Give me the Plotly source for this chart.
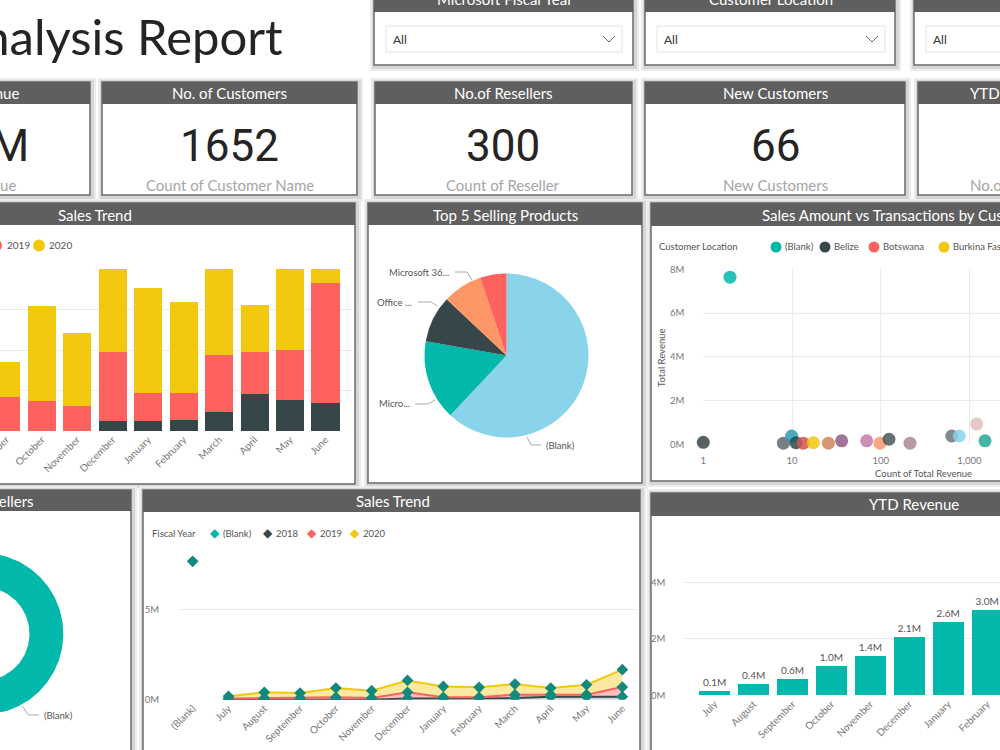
import numpy as np
import plotly.graph_objects as go

W, H = 1000, 750
def X(p): return p / W
def Y(p): return 1 - p / H

FONT = "Segoe UI, Lato, Open Sans, sans-serif"
NUMFONT = "Roboto, DejaVu Sans, sans-serif"
HEADER_BG = "#5f5f5f"
BORDER = "#6b6b6b"
TEAL, DARK, RED, YELLOW = "#01B8AA", "#374649", "#FD625E", "#F2C80F"
LBL = "#777777"

# ---------------- data ----------------
months = ["July", "August", "September", "October", "November", "December",
          "January", "February", "March", "April", "May", "June"]

# Sales Trend (stacked columns), in gridline units
bar_2018 = [None, None, 0, 0, 0, 0.24, 0.24, 0.27, 0.47, 0.92, 0.77, 0.69]
bar_2019 = [None, None, 0.85, 0.74, 0.62, 1.72, 0.71, 0.68, 1.40, 1.02, 1.24, 2.96]
bar_2020 = [None, None, 0.86, 2.34, 1.81, 2.04, 2.58, 2.23, 2.13, 1.17, 1.99, 0.35]

# Top 5 Selling Products
pie_labels = ["(Blank)", "Micro...", "Office ...", "Microsoft 36...", "Other"]
pie_values = [62.0, 15.8, 9.2, 7.8, 5.2]
pie_colors = ["#8AD4EB", TEAL, DARK, "#FE9666", RED]

# Sales Amount vs Transactions (x: count, y: revenue in M)
sc_x = [2, 1, 8, 9.9, 11.1, 13.4, 17.4, 25.7, 36.3, 69.5, 98, 124, 214, 631, 770, 1208, 1500]
sc_y = [7.64, 0.09, 0.05, 0.38, 0.07, 0.05, 0.07, 0.05, 0.16, 0.16, 0.05, 0.23, 0.05, 0.38, 0.38, 0.93, 0.16]
sc_colors = [TEAL, DARK, "#5F6B6D", "#2C9AB7", "#27494C", "#D2524F", YELLOW, "#D2845C",
             "#8D5C86", "#C47BAE", "#FE9666", "#4A5759", "#A98A93", "#6D7677", "#8AD4EB",
             "#DFBFBF", "#27A596"]
sc_legend = ["(Blank)", "Belize", "Botswana", "Burkina Faso"]
sc_legend_colors = [TEAL, DARK, RED, YELLOW]

# No. of Resellers donut
donut_labels = ["(Blank)"]
donut_values = [300]

# Sales Trend (stacked area), M
line_cats = ["(Blank)"] + months
blank_val = 7.69
l2018 = [0, 0, 0, 0, 0, 0.07, 0.06, 0.06, 0.09, 0.17, 0.17, 0.17]
l2019 = [0.06, 0.09, 0.09, 0.13, 0.09, 0.34, 0.07, 0.07, 0.19, 0.11, 0.11, 0.53]
l2020 = [0.13, 0.32, 0.28, 0.52, 0.41, 0.66, 0.61, 0.56, 0.59, 0.37, 0.55, 0.97]

# YTD Revenue, M
ytd_months = months[:8]
ytd_vals = [0.14, 0.40, 0.59, 1.04, 1.40, 2.06, 2.58, 3.02]

# KPI cards
kpis = [("No. of Customers", "1652", "Count of Customer Name", 229.5),
        ("No.of Resellers", "300", "Count of Reseller", 503.5),
        ("New Customers", "66", "New Customers", 775)]

shapes, annotations = [], []

def text(x, y, s, size=10, color="#666", anchor="center", font=FONT, angle=0, weight=None):
    f = dict(family=font, size=size, color=color)
    if weight:
        f["weight"] = weight
    annotations.append(dict(xref="paper", yref="paper", x=X(x), y=Y(y), text=s,
                            showarrow=False, xanchor=anchor, yanchor="middle",
                            font=f, textangle=angle))

def rect(x0, y0, x1, y1, fill, line=None, lw=0):
    shapes.append(dict(type="rect", xref="paper", yref="paper", layer="below",
                       x0=X(x0), x1=X(x1), y0=Y(y1), y1=Y(y0), fillcolor=fill,
                       line=dict(color=line or fill, width=lw)))

def circle(cx, cy, r, color):
    shapes.append(dict(type="circle", xref="paper", yref="paper", layer="above",
                       x0=X(cx - r), x1=X(cx + r), y0=Y(cy + r), y1=Y(cy - r),
                       fillcolor=color, line=dict(width=0)))

def polyline(pts, color="#aaaaaa", width=1, layer="above"):
    d = "M " + " L ".join(f"{X(a):.5f},{Y(b):.5f}" for a, b in pts)
    shapes.append(dict(type="path", xref="paper", yref="paper", path=d, layer=layer,
                       line=dict(color=color, width=width)))

def panel(x0, y0, x1, y1, hh=22):
    rect(x0 - 4, y0 - 4, x1 + 6, y1 + 6, "#ececec")
    rect(x0 - 2, y0 - 2, x1 + 4, y1 + 4, "#d6d6d6")
    rect(x0, y0, x1, y1, "#ffffff", BORDER, 1.5)
    rect(x0, y0, x1, y0 + hh, HEADER_BG)

# ---------------- panels ----------------
panel(374, -10, 633, 65, 22)
panel(645, -10, 895, 65, 22)
panel(914, -10, 1015, 65, 22)
for p in [(-10, 82, 90, 195), (102, 82, 357, 195), (375, 82, 632, 195),
          (645, 82, 905, 195), (918, 82, 1015, 195)]:
    panel(*p, hh=22)
panel(-10, 203, 355, 484, 22)
panel(368, 203, 642, 483, 22)
panel(651, 203, 1015, 481, 23)
panel(-10, 490, 131, 760, 21)
panel(143, 490, 640, 760, 22)
panel(651, 493, 1015, 760, 23)

# title
text(285, 36, "Sales Analysis Report", size=49, color="#252423", anchor="right")

# slicers
for (bx0, bx1, hdr, hc) in [(386, 622, "Microsoft Fiscal Year", 505),
                            (657, 885, "Customer Location", 771),
                            (926, 1015, "", 0)]:
    rect(bx0, 26, bx1, 52, "#ffffff", "#e3e3e3", 1)
    text(bx0 + 5, 39, "All", size=12, color="#333", anchor="left")
    if hdr:
        text(hc, -1, hdr, size=15, color="#ffffff")
    if bx1 < 1000:
        cx = bx1 - 13
        polyline([(cx - 6, 36), (cx, 42), (cx + 6, 36)], color="#666", width=1)

# KPI cards
text(21, 93, "Total Revenue", size=15, color="#ffffff", anchor="right")
text(31, 146, "29.1M", size=44, color="#252423", anchor="right", font=NUMFONT)
text(18, 185, "Total Revenue", size=15, color="#a6a6a6", anchor="right")
for hdr, val, sub, cx in kpis:
    text(cx, 93, hdr, size=15, color="#ffffff")
    text(cx, 146, val, size=44, color="#252423", font=NUMFONT)
    text(cx, 185, sub, size=15, color="#a6a6a6")
text(968, 93, "YTD Transactions", size=15, color="#ffffff", anchor="left")
text(968, 185, "No.of Transactions", size=15, color="#a6a6a6", anchor="left")

# chart headers
text(95, 215, "Sales Trend", size=15, color="#ffffff")
text(505, 215, "Top 5 Selling Products", size=15, color="#ffffff")
text(760, 215, "Sales Amount vs Transactions by Customer Location", size=15, color="#ffffff", anchor="left")
text(36, 501, "No.of Resellers", size=15, color="#ffffff", anchor="right")
text(393, 501, "Sales Trend", size=15, color="#ffffff")
text(914, 504, "YTD Revenue", size=15, color="#ffffff")

# ---------------- stacked column ----------------
traces = []
for name, vals, col in [("2018", bar_2018, DARK), ("2019", bar_2019, RED), ("2020", bar_2020, YELLOW)]:
    traces.append(go.Bar(x=months, y=vals, name=name, marker=dict(color=col, line=dict(width=0)),
                         xaxis="x", yaxis="y", showlegend=False, hoverinfo="skip"))

circle(-4, 245.5, 6, RED)
text(5, 245.5, "2019", size=10, color="#555", anchor="left")
circle(39, 245.5, 6, YELLOW)
text(47, 245.5, "2020", size=10, color="#555", anchor="left")

# ---------------- pie ----------------
traces.append(go.Pie(values=pie_values, labels=pie_labels, marker=dict(colors=pie_colors, line=dict(width=0)),
                     sort=False, direction="clockwise", rotation=0, textinfo="none",
                     hoverinfo="skip", showlegend=False,
                     domain=dict(x=[X(424.5), X(588.5)], y=[Y(437.5), Y(273.5)])))
polyline([(527, 437), (531, 445), (541, 445)])
text(544, 445, "(Blank)", size=9.5, color="#555", anchor="left")
polyline([(435, 400), (428, 404), (415, 404)])
text(412, 404, "Micro...", size=9.5, color="#555", anchor="right")
polyline([(437, 306), (431, 302), (418, 302)])
text(414, 302, "Office ...", size=9.5, color="#555", anchor="right")
polyline([(472, 280), (467, 272), (455, 272)])
text(451, 272, "Microsoft 36...", size=9.5, color="#555", anchor="right")

# ---------------- scatter ----------------
traces.append(go.Scatter(x=sc_x, y=sc_y, mode="markers", xaxis="x2", yaxis="y2",
                         marker=dict(color=sc_colors, size=13, opacity=0.85, line=dict(width=0)),
                         cliponaxis=False, showlegend=False, hoverinfo="skip"))
text(657, 247, "Customer Location", size=9.5, color="#555", anchor="left")
lx = [776, 825, 874, 944]
for nm, col, cx in zip(sc_legend, sc_legend_colors, lx):
    circle(cx, 247, 5.5, col)
    text(cx + 7, 247, nm, size=9.5, color="#555", anchor="left")
text(661, 358, "Total Revenue", size=9.5, color="#555", angle=-90)
text(923, 473, "Count of Total Revenue", size=9.5, color="#555")

# ---------------- donut ----------------
fr = np.array(donut_values, dtype=float) / np.sum(donut_values)
cum = np.concatenate([[0], np.cumsum(fr)])
R_OUT, R_IN = 80.8, 47.0
for i, lab in enumerate(donut_labels):
    a = np.linspace(cum[i], cum[i + 1], 241) * 2 * np.pi
    xs = np.concatenate([R_OUT * np.sin(a), R_IN * np.sin(a[::-1])])
    ys = np.concatenate([R_OUT * np.cos(a), R_IN * np.cos(a[::-1])])
    traces.append(go.Scatter(x=xs, y=ys, mode="lines", fill="toself", fillcolor=TEAL,
                             line=dict(width=0, color=TEAL), xaxis="x5", yaxis="y5",
                             showlegend=False, hoverinfo="skip"))
polyline([(22, 706), (28.5, 715), (39, 715)])
text(42, 715, "(Blank)", size=9.5, color="#555", anchor="left")

# ---------------- line / area ----------------
MK = dict(symbol="diamond", size=9, color="#12897D")
traces.append(go.Scatter(x=["(Blank)"], y=[blank_val], mode="markers", marker=MK,
                         xaxis="x3", yaxis="y3", showlegend=False, hoverinfo="skip"))
for name, vals, col, fc in [("2018", l2018, DARK, "rgba(55,70,73,0.25)"),
                            ("2019", l2019, RED, "rgba(253,98,94,0.4)"),
                            ("2020", l2020, YELLOW, "rgba(242,200,15,0.4)")]:
    traces.append(go.Scatter(x=months, y=vals, mode="lines+markers", stackgroup="one",
                             line=dict(color=col, width=2), fillcolor=fc, marker=MK,
                             xaxis="x3", yaxis="y3", showlegend=False, hoverinfo="skip"))
text(150, 533, "Fiscal Year", size=9.5, color="#555", anchor="left")
for sym_x, col, nm in [(215, TEAL, "(Blank)"), (267.5, DARK, "2018"),
                       (312, RED, "2019"), (355, YELLOW, "2020")]:
    text(sym_x, 533, "\u25C6", size=12, color=col, font="DejaVu Sans")
    text(sym_x + 6, 533, nm, size=9.5, color="#555", anchor="left")

# ---------------- YTD ----------------
traces.append(go.Bar(x=ytd_months, y=ytd_vals, marker=dict(color=TEAL, line=dict(width=0)),
                     texttemplate="%{y:.1f}M", textposition="outside",
                     textfont=dict(size=10, color="#555", family=FONT), cliponaxis=False,
                     xaxis="x4", yaxis="y4", showlegend=False, hoverinfo="skip"))

fig = go.Figure(data=traces)

GRID = "#ebebeb"
TF = dict(family=FONT, size=10, color=LBL)
common_x = dict(type="category", showgrid=False, zeroline=False, showline=False,
                tickangle=-45, tickfont=TF, automargin=False, ticks="")
fig.update_layout(
    template="none", width=W, height=H, autosize=False,
    margin=dict(l=0, r=0, t=0, b=0), paper_bgcolor="#ffffff",
    plot_bgcolor="rgba(0,0,0,0)", showlegend=False, barmode="stack", bargap=0.21,
    font=dict(family=FONT),
    xaxis=dict(common_x, domain=[0, 0.353], categoryorder="array", categoryarray=months,
               range=[1.825, 11.775], anchor="y"),
    yaxis=dict(domain=[Y(431), Y(269)], range=[0, 4], dtick=1, showticklabels=False,
               gridcolor=GRID, zeroline=False, showline=False, automargin=False, anchor="x"),
    xaxis2=dict(type="log", domain=[0.7033, 1.0], range=[0, 3.345], tickvals=[1, 10, 100, 1000],
                ticktext=["1", "10", "100", "1,000"], gridcolor=GRID, zeroline=False, showline=False,
                tickfont=dict(family=FONT, size=9.5, color=LBL), ticks="outside", ticklen=7,
                tickcolor="rgba(0,0,0,0)", automargin=False, anchor="y2"),
    yaxis2=dict(domain=[Y(444.3), Y(269.3)], range=[0, 8], tickvals=[0, 2, 4, 6, 8],
                ticktext=["0M", "2M", "4M", "6M", "8M"], gridcolor=GRID, zeroline=False,
                showline=False, tickfont=dict(family=FONT, size=9.5, color=LBL),
                ticks="outside", ticklen=16, tickcolor="rgba(0,0,0,0)", automargin=False, anchor="x2"),
    xaxis3=dict(common_x, domain=[0.178, 0.637], categoryorder="array", categoryarray=line_cats,
                range=[-0.41, 12.41], anchor="y3"),
    yaxis3=dict(domain=[Y(699.7), Y(546.7)], range=[0, 8.5], tickvals=[0, 5], ticktext=["0M", "5M"],
                gridcolor=GRID, zeroline=False, showline=False, tickfont=dict(family=FONT, size=9.5, color=LBL),
                ticks="outside", ticklen=16, tickcolor="rgba(0,0,0,0)", automargin=False, anchor="x3"),
    xaxis4=dict(common_x, domain=[0.6843, 1.0], categoryorder="array", categoryarray=ytd_months,
                range=[-0.78, 7.33], anchor="y4"),
    yaxis4=dict(domain=[Y(695.3), Y(554)], range=[0, 5], tickvals=[0, 2, 4], ticktext=["0M", "2M", "4M"],
                gridcolor=GRID, zeroline=False, showline=False, tickfont=dict(family=FONT, size=9.5, color=LBL),
                ticks="outside", ticklen=16, tickcolor="rgba(0,0,0,0)", automargin=False, anchor="x4"),
    xaxis5=dict(domain=[0, 0.13], range=[17.5, 147.5], visible=False, anchor="y5"),
    yaxis5=dict(domain=[0, Y(514)], range=[-116.2, 119.8], visible=False, anchor="x5"),
    shapes=shapes, annotations=annotations,
)

fig.write_html("out.html")
